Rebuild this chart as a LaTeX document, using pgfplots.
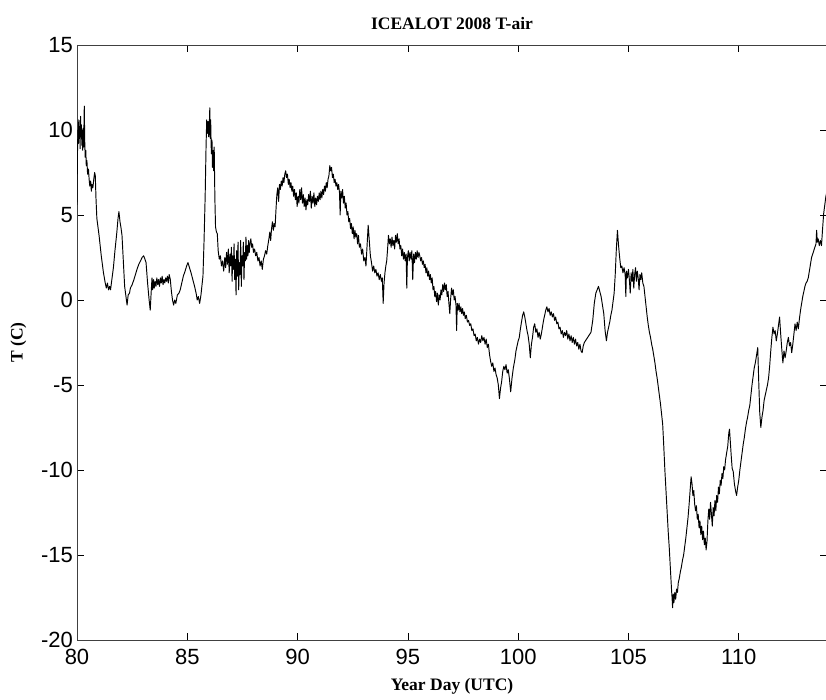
\documentclass[border=0pt]{standalone}
\usepackage{fontspec}
\setmainfont{Liberation Serif}
\newfontfamily\arial{Liberation Sans}
\usepackage{pgfplots}
\usepackage{pgfplotstable}
\pgfplotsset{compat=1.18}
\pgfplotstableread{
d t
80.00 5.6
80.02 8.5
80.04 10.0
80.06 9.2
80.08 10.6
80.10 9.5
80.12 10.2
80.14 8.9
80.16 10.8
80.18 9.6
80.20 10.3
80.22 9.1
80.24 10.0
80.26 8.8
80.28 10.1
80.30 9.0
80.33 11.4
80.35 9.4
80.37 8.4
80.40 8.8
80.42 7.9
80.45 8.2
80.48 7.4
80.52 7.7
80.55 7.1
80.58 6.7
80.62 7.0
80.65 6.4
80.68 6.8
80.72 6.6
80.76 7.1
80.80 7.5
80.83 7.3
80.86 6.0
80.90 4.8
81.00 3.8
81.10 2.6
81.20 1.6
81.28 1.0
81.33 0.7
81.38 1.0
81.43 0.6
81.48 0.8
81.52 0.6
81.58 1.2
81.65 1.9
81.72 2.9
81.80 3.9
81.86 4.8
81.90 5.2
81.95 4.6
82.00 4.2
82.04 3.8
82.10 2.3
82.16 0.8
82.22 0.2
82.27 -0.3
82.32 0.3
82.38 0.4
82.42 0.7
82.50 0.9
82.58 1.2
82.65 1.5
82.72 1.8
82.80 2.1
82.88 2.3
82.95 2.5
83.02 2.6
83.08 2.4
83.13 2.2
83.20 1.0
83.27 0.0
83.32 -0.6
83.36 0.4
83.40 1.3
83.43 0.6
83.47 1.2
83.50 0.7
83.54 1.1
83.58 0.8
83.62 1.3
83.66 0.9
83.70 1.2
83.74 0.8
83.78 1.3
83.82 1.0
83.86 1.4
83.90 0.9
83.94 1.2
83.98 1.0
84.02 1.3
84.06 1.1
84.10 1.4
84.14 1.0
84.18 1.5
84.23 1.2
84.28 0.5
84.33 0.0
84.38 -0.3
84.43 0.0
84.48 -0.2
84.55 0.3
84.62 0.4
84.68 0.6
84.75 1.0
84.82 1.4
84.90 1.7
84.97 2.0
85.03 2.2
85.10 1.9
85.17 1.6
85.25 1.2
85.33 0.8
85.40 0.4
85.45 0.0
85.50 0.2
85.56 -0.2
85.62 0.3
85.66 0.8
85.71 1.4
85.76 3.5
85.81 6.1
85.85 9.0
85.88 10.6
85.91 9.8
85.94 10.5
85.97 9.6
86.00 10.4
86.02 11.3
86.04 9.5
86.06 10.6
86.09 8.6
86.12 9.4
86.14 7.8
86.17 8.8
86.19 7.6
86.22 9.0
86.25 6.0
86.28 4.3
86.32 4.0
86.36 3.9
86.40 2.9
86.45 2.4
86.50 2.6
86.55 2.0
86.60 2.3
86.65 1.7
86.70 2.5
86.74 1.9
86.78 2.8
86.82 2.1
86.86 3.0
86.90 1.6
86.94 2.7
86.97 2.0
87.00 3.1
87.03 1.1
87.06 2.6
87.09 1.8
87.12 3.3
87.15 1.2
87.18 2.4
87.21 0.3
87.24 2.9
87.27 1.4
87.30 3.4
87.33 0.6
87.36 2.2
87.39 1.5
87.42 3.5
87.45 0.8
87.48 2.6
87.51 2.0
87.54 3.4
87.57 1.2
87.60 2.8
87.63 2.3
87.66 3.7
87.69 2.4
87.72 3.2
87.75 2.6
87.78 3.5
87.81 2.8
87.84 3.3
87.88 3.6
87.92 3.1
87.96 3.3
88.00 2.8
88.05 3.0
88.10 2.6
88.15 2.8
88.20 2.3
88.25 2.5
88.30 2.0
88.35 2.3
88.40 1.8
88.45 2.4
88.50 2.6
88.55 2.9
88.60 2.7
88.65 3.2
88.70 3.6
88.74 4.0
88.78 3.5
88.82 4.2
88.86 4.6
88.90 4.1
88.94 4.5
88.98 4.3
89.02 5.3
89.06 6.2
89.10 6.6
89.14 5.8
89.18 6.8
89.22 6.5
89.26 7.0
89.30 6.7
89.34 7.2
89.38 6.9
89.42 7.4
89.46 7.6
89.50 7.2
89.54 7.4
89.58 6.8
89.62 7.1
89.66 6.6
89.70 6.9
89.74 6.4
89.78 6.7
89.82 6.1
89.86 6.5
89.90 5.9
89.94 6.3
89.98 5.5
90.02 6.1
90.06 5.7
90.10 6.5
90.14 5.9
90.18 6.6
90.22 5.7
90.26 6.2
90.30 5.5
90.34 6.0
90.38 5.3
90.42 5.9
90.46 5.6
90.50 6.2
90.54 5.8
90.58 6.4
90.62 5.4
90.66 6.1
90.70 5.7
90.74 6.3
90.78 5.5
90.82 6.0
90.86 5.6
90.90 6.1
90.94 5.8
90.98 6.3
91.02 5.9
91.06 6.4
91.10 6.0
91.14 6.5
91.18 6.2
91.22 6.7
91.26 6.4
91.30 6.9
91.34 6.6
91.38 7.1
91.42 7.3
91.46 7.9
91.50 7.6
91.54 7.8
91.58 7.2
91.62 7.4
91.66 6.9
91.70 7.1
91.74 6.7
91.78 6.9
91.82 6.5
91.86 6.8
91.90 6.3
91.93 5.0
91.96 6.4
92.00 6.0
92.04 6.5
92.08 5.7
92.12 6.1
92.16 5.4
92.20 5.7
92.24 5.0
92.28 5.2
92.32 4.6
92.36 4.8
92.40 4.2
92.44 4.5
92.48 3.9
92.52 4.3
92.56 3.6
92.60 4.1
92.64 3.7
92.68 3.9
92.72 3.3
92.76 3.8
92.80 3.1
92.85 3.3
92.90 2.7
92.95 3.0
93.00 2.3
93.05 2.5
93.10 2.0
93.15 3.2
93.20 4.4
93.25 3.5
93.30 2.6
93.35 2.2
93.40 1.7
93.45 2.0
93.50 1.6
93.55 1.8
93.60 1.4
93.65 1.6
93.70 1.2
93.75 1.5
93.80 1.1
93.84 1.3
93.88 -0.2
93.92 1.0
93.96 1.6
94.00 2.0
94.04 2.3
94.08 3.0
94.12 3.8
94.16 3.3
94.20 3.6
94.24 3.1
94.28 3.7
94.32 3.2
94.36 3.5
94.40 3.0
94.44 3.8
94.48 3.4
94.52 3.9
94.56 3.3
94.60 3.6
94.64 3.0
94.68 3.2
94.72 2.6
94.76 3.0
94.80 2.4
94.84 2.8
94.88 2.3
94.92 2.7
94.95 0.7
94.98 2.5
95.02 2.9
95.06 2.3
95.10 2.8
95.14 2.4
95.18 2.9
95.22 1.2
95.26 2.7
95.30 2.2
95.34 2.8
95.38 2.4
95.42 2.9
95.46 2.5
95.50 2.8
95.54 2.6
95.58 2.3
95.62 2.5
95.66 2.1
95.70 2.3
95.74 1.9
95.78 2.1
95.82 1.6
95.86 1.9
95.90 1.4
95.94 1.7
95.98 1.2
96.02 1.5
96.06 1.0
96.10 1.3
96.14 0.6
96.18 0.8
96.22 0.2
96.26 0.5
96.30 -0.1
96.34 0.4
96.38 -0.3
96.42 0.3
96.46 0.0
96.50 0.6
96.54 0.3
96.58 0.9
96.62 0.5
96.66 1.0
96.70 0.6
96.74 0.9
96.78 0.2
96.82 0.5
96.86 -0.2
96.90 -0.8
96.94 0.1
96.98 0.7
97.02 0.3
97.06 0.6
97.10 0.0
97.14 0.2
97.18 -0.3
97.21 -1.8
97.24 -0.2
97.28 -0.6
97.32 -0.2
97.36 -0.7
97.40 -0.4
97.44 -0.8
97.48 -0.5
97.52 -0.9
97.56 -0.7
97.60 -1.1
97.65 -0.9
97.70 -1.3
97.75 -1.2
97.80 -1.5
97.85 -1.4
97.90 -1.8
97.95 -1.7
98.00 -2.1
98.05 -2.0
98.10 -2.4
98.15 -2.2
98.20 -2.6
98.25 -2.3
98.30 -2.5
98.35 -2.1
98.40 -2.4
98.45 -2.2
98.50 -2.6
98.55 -2.3
98.60 -2.8
98.65 -2.6
98.70 -3.2
98.75 -3.6
98.80 -3.9
98.85 -3.7
98.90 -4.2
98.95 -4.0
99.00 -4.4
99.05 -4.6
99.10 -5.0
99.15 -5.8
99.20 -5.2
99.25 -4.8
99.30 -4.2
99.35 -3.9
99.40 -4.1
99.45 -3.8
99.50 -4.3
99.55 -4.1
99.60 -4.6
99.66 -5.4
99.72 -4.6
99.78 -4.0
99.85 -3.5
99.90 -3.0
99.95 -2.7
100.00 -2.4
100.05 -2.2
100.10 -1.7
100.15 -1.3
100.20 -0.9
100.25 -0.7
100.30 -1.0
100.35 -1.4
100.40 -1.8
100.45 -2.1
100.50 -2.6
100.55 -3.4
100.60 -2.6
100.65 -2.2
100.70 -1.6
100.75 -1.4
100.80 -1.9
100.85 -1.7
100.90 -2.2
100.95 -1.9
101.00 -2.3
101.05 -2.0
101.10 -1.6
101.15 -1.2
101.20 -0.9
101.25 -0.6
101.30 -0.4
101.35 -0.7
101.40 -0.5
101.45 -0.9
101.50 -0.7
101.55 -1.0
101.60 -0.8
101.65 -1.2
101.70 -1.0
101.75 -1.4
101.80 -1.3
101.85 -1.7
101.90 -1.6
101.95 -2.0
102.00 -1.8
102.05 -2.2
102.10 -1.9
102.15 -2.1
102.20 -1.8
102.25 -2.3
102.30 -2.0
102.35 -2.4
102.40 -2.1
102.45 -2.5
102.50 -2.2
102.55 -2.6
102.60 -2.3
102.65 -2.7
102.70 -2.5
102.75 -2.9
102.80 -2.6
102.85 -3.0
102.90 -3.1
102.95 -2.7
103.00 -2.5
103.10 -2.3
103.20 -2.1
103.30 -1.9
103.38 -1.2
103.45 -0.2
103.52 0.4
103.58 0.6
103.64 0.8
103.70 0.5
103.76 0.2
103.82 -0.3
103.88 -0.8
103.94 -1.8
104.00 -2.4
104.05 -1.9
104.10 -1.6
104.15 -1.3
104.20 -0.9
104.25 -0.6
104.30 -0.1
104.35 0.4
104.40 1.5
104.45 3.0
104.50 4.1
104.55 3.2
104.60 2.5
104.65 1.9
104.70 2.0
104.75 1.6
104.80 1.9
104.85 1.5
104.88 0.2
104.91 1.7
104.95 1.3
105.00 1.8
105.04 1.2
105.08 0.4
105.12 1.6
105.16 1.1
105.20 1.8
105.24 0.7
105.28 1.5
105.32 1.9
105.36 1.1
105.40 1.7
105.44 1.3
105.48 0.6
105.52 1.5
105.56 1.2
105.60 1.6
105.65 1.0
105.70 0.8
105.75 0.2
105.80 -0.4
105.85 -1.0
105.90 -1.5
105.95 -1.9
106.00 -2.2
106.05 -2.6
106.10 -2.9
106.15 -3.3
106.20 -3.7
106.25 -4.2
106.30 -4.6
106.35 -5.1
106.40 -5.6
106.45 -6.1
106.50 -6.7
106.55 -7.3
106.60 -8.6
106.65 -10.0
106.70 -11.2
106.75 -12.4
106.80 -13.6
106.85 -14.6
106.90 -15.8
106.95 -17.0
106.98 -17.6
107.00 -18.1
107.03 -17.3
107.06 -17.8
107.10 -17.2
107.14 -17.6
107.18 -17.0
107.22 -17.2
107.26 -16.6
107.30 -16.4
107.35 -16.0
107.40 -15.7
107.45 -15.3
107.50 -15.0
107.55 -14.5
107.60 -14.0
107.65 -13.4
107.70 -12.8
107.75 -12.0
107.80 -11.1
107.84 -10.4
107.88 -10.8
107.92 -11.5
107.96 -11.2
108.00 -12.0
108.04 -12.4
108.08 -12.1
108.12 -12.9
108.16 -12.6
108.20 -13.4
108.24 -13.0
108.28 -13.8
108.32 -13.3
108.36 -14.1
108.40 -13.6
108.44 -14.4
108.48 -14.0
108.52 -14.7
108.56 -14.2
108.60 -13.0
108.64 -12.3
108.68 -12.9
108.72 -11.9
108.76 -12.6
108.80 -13.3
108.84 -12.2
108.88 -12.7
108.92 -11.8
108.96 -12.4
109.00 -11.5
109.04 -11.9
109.08 -11.0
109.12 -11.4
109.16 -10.6
109.20 -10.9
109.24 -10.2
109.28 -10.5
109.32 -9.8
109.36 -10.0
109.40 -9.4
109.45 -9.0
109.50 -8.6
109.55 -7.8
109.58 -7.6
109.62 -8.4
109.66 -9.2
109.70 -9.9
109.75 -10.1
109.80 -10.8
109.85 -11.2
109.90 -11.5
109.95 -11.0
110.00 -10.6
110.05 -10.0
110.10 -9.5
110.15 -9.0
110.20 -8.5
110.25 -8.1
110.30 -7.6
110.35 -7.2
110.40 -6.9
110.45 -6.5
110.50 -6.2
110.55 -5.6
110.60 -5.0
110.65 -4.5
110.70 -4.0
110.75 -3.7
110.80 -3.3
110.86 -2.8
110.90 -4.6
110.95 -6.6
111.00 -7.5
111.05 -6.9
111.10 -6.5
111.15 -5.9
111.20 -5.6
111.25 -5.3
111.30 -5.0
111.35 -4.6
111.40 -3.9
111.45 -3.0
111.50 -2.2
111.55 -1.6
111.60 -2.0
111.65 -1.8
111.70 -2.4
111.75 -2.0
111.80 -1.5
111.85 -1.0
111.90 -2.0
111.95 -2.9
112.00 -3.7
112.05 -3.0
112.10 -3.4
112.15 -3.0
112.20 -2.5
112.25 -2.2
112.30 -2.7
112.35 -2.5
112.40 -3.1
112.45 -2.6
112.50 -2.0
112.55 -1.4
112.60 -1.8
112.65 -1.3
112.70 -1.7
112.75 -1.1
112.80 -0.6
112.85 -0.2
112.90 0.2
112.95 0.5
113.00 0.8
113.05 1.0
113.10 1.1
113.15 1.3
113.20 1.7
113.25 2.1
113.30 2.5
113.35 2.7
113.40 2.9
113.45 3.1
113.50 3.3
113.53 4.1
113.56 3.4
113.60 3.6
113.65 3.2
113.70 3.5
113.75 3.2
113.80 4.2
113.85 5.1
113.90 5.6
113.95 6.1
114.00 6.4
}\tair
\begin{document}
\begin{tikzpicture}
\begin{axis}[name=ax, scale only axis, width=750pt, height=595pt,
  xmin=80, xmax=114, ymin=-20, ymax=15,
  xtick={80,85,90,95,100,105,110}, xticklabels={80,85,90,95,100,105,110},
  ytick={-20,-15,-10,-5,0,5,10,15}, yticklabels={-20,-15,-10,-5,0,5,10,15},
  tick label style={font=\arial\fontsize{22}{26}\selectfont},
  yticklabel style={inner sep=4pt},
  xticklabel style={yshift=-6pt},
  major tick length=7pt, tick style={black, line width=0.6pt},
  axis line style={line width=0.6pt, black!75},
  title={ICEALOT 2008 T-air},
  title style={font=\bfseries\fontsize{17.5}{20}\selectfont, yshift=6pt},
  xlabel={Year Day (UTC)}, ylabel={T (C)},
  label style={font=\bfseries\fontsize{17.5}{20}\selectfont},
  xlabel style={yshift=-6pt},
  ylabel style={yshift=7pt}]
\addplot[black, line width=0.95pt, line join=round] table[x=d, y=t] {\tair};
\end{axis}
\pgfresetboundingbox
\path ([xshift=-77pt,yshift=-60pt]ax.south west) rectangle ([xshift=-1pt,yshift=45pt]ax.north east);
\end{tikzpicture}
\end{document}
